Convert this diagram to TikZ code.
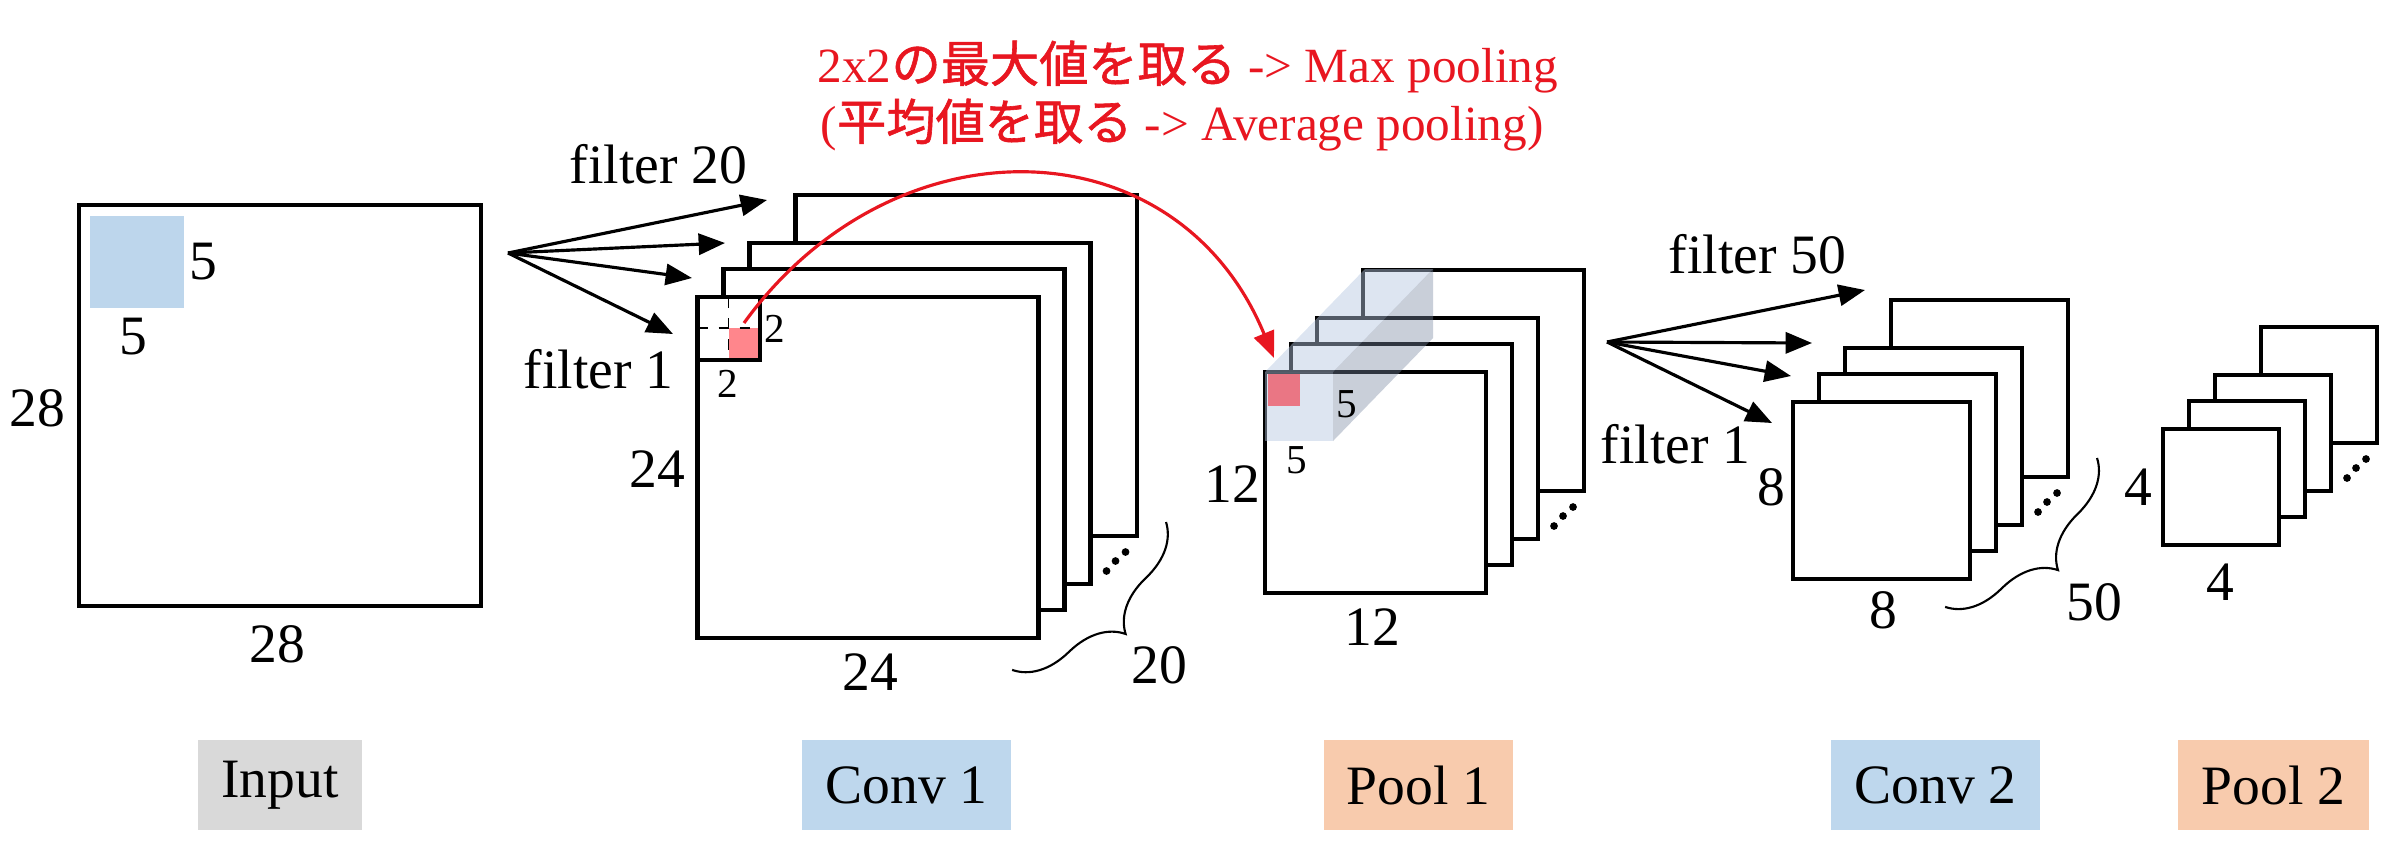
\documentclass[tikz,border=0pt]{standalone}
\usepackage{fontspec}
\setmainfont{Liberation Serif}
\newfontfamily\jpfont{Noto Sans CJK JP}[FakeBold=1.2]
\usetikzlibrary{arrows.meta,decorations.pathreplacing}

\definecolor{kernelblue}{RGB}{189,214,236}
\definecolor{stagegray}{RGB}{217,217,217}
\definecolor{stageblue}{RGB}{190,215,237}
\definecolor{stageorange}{RGB}{248,203,173}
\definecolor{poolred}{RGB}{232,22,32}
\definecolor{poolpink}{RGB}{255,134,140}
\definecolor{poolpinkdim}{RGB}{234,118,132}
\definecolor{cubeblue}{RGB}{180,198,225}
\definecolor{cubeside}{RGB}{120,135,160}

\tikzset{
  layer/.style={draw, fill=white, line width=1.15pt},
  lbl/.style={font=\fontsize{15.8}{19}\selectfont, inner sep=0pt},
  smalllbl/.style={font=\fontsize{11.7}{14}\selectfont, inner sep=0pt},
  fanarrow/.style={line width=0.9pt, -{Triangle[length=7.5pt,width=6pt]}},
  poolarrow/.style={draw=poolred, line width=0.9pt, -{Triangle[length=7.5pt,width=6pt]}, poolred},
  countbrace/.style={decorate, decoration={brace, amplitude=15pt}, line width=0.6pt},
  stagebox/.style={minimum height=0.9cm, inner sep=0pt, font=\fontsize{15.8}{19}\selectfont},
}

\begin{document}
\begin{tikzpicture}[x=0.01cm, y=-0.01cm]
  \useasboundingbox (0,0) rectangle (2392,848);

  % input image
  \draw[layer] (79,205) rectangle (481,606);
  \fill[kernelblue] (90,216) rectangle (184,308);
  \node[lbl] (inh) at (37,408) {28};
  \node[lbl] (inw) at (277,644) {28};
  \node[lbl] (kerh) at (203,262) {5};
  \node[lbl] (kerw) at (133,337) {5};

  % feature map stacks: front corner / size
  \foreach \px/\py/\sz in {697.5/297/341, 1265/372/221, 1793/402/177, 2163/429/116} {
    \foreach \dx/\dy in {98/-102, 52/-54, 26/-28, 0/0}
      \draw[layer] (\px+\dx,\py+\dy) rectangle ++(\sz,\sz);
    \foreach \dx/\dy in {68/-67, 77/-77, 87/-86}
      \fill (\px+\sz+\dx,\py+\sz+\dy) circle[radius=1.1pt];
  }

  % 2x2 window on conv 1
  \fill[poolpink] (728.6,328) rectangle (760,360);
  \draw[dashed, line width=0.5pt] (728.6,297) -- (728.6,360) (697.5,328) -- (760,328);
  \draw[line width=1.15pt] (697.5,297) rectangle (760,360);
  \node[smalllbl] (winh) at (775,329) {2};
  \node[smalllbl] (winw) at (728,384) {2};

  % first fan of filters
  \coordinate (fanA) at (508,253);
  \coordinate (fanA1) at (767,200);
  \coordinate (fanA2) at (725,243);
  \coordinate (fanA3) at (692,278);
  \coordinate (fanA4) at (673,334);
  \foreach \t in {1,...,4}
    \draw[fanarrow] (fanA) -- (fanA\t);
  \node[lbl, anchor=base west] (fltA20) at (569,183) {filter 20};
  \node[lbl, anchor=base west] (fltA1) at (523,388) {filter 1};

  \node[lbl] (convh) at (657,469) {24};
  \node[lbl] (convw) at (870,672) {24};
  \coordinate (convbt) at (1166,522);
  \coordinate (convbb) at (1012,670);
  \draw[countbrace] (convbt) -- (convbb);
  \node[lbl] (convn) at (1159,665) {20};

  % pooling window (transparent block)
  \fill[cubeblue, opacity=0.45] (1265,372) rectangle (1333,441);
  \fill[cubeblue, opacity=0.45] (1265,372) -- (1365,269) -- (1433,269) -- (1333,372) -- cycle;
  \fill[cubeside, opacity=0.4] (1333,372) -- (1433,269) -- (1433,338) -- (1333,441) -- cycle;
  \fill[poolpinkdim] (1268,374) rectangle (1300,406);
  \node[smalllbl] (cubeh) at (1347,404) {5};
  \node[smalllbl] (cubew) at (1297,460) {5};
  \node[lbl] (poolh) at (1232,484) {12};
  \node[lbl] (poolw) at (1372,627) {12};

  % max pooling arrow
  \coordinate (poolsrc) at (744,323);
  \coordinate (pooldst) at (1274,358);
  \draw[poolarrow] (poolsrc) .. controls (894,116) and (1177,123) .. (pooldst);
  \node[anchor=base west, text=poolred, inner sep=0pt, font=\fontsize{14}{17}\selectfont] (maxnote) at (817,82)
    {2x2{\jpfont の最大値を取る} -> Max pooling};
  \node[anchor=base west, text=poolred, inner sep=0pt, font=\fontsize{14}{17}\selectfont] (avgnote) at (820,140)
    {({\jpfont 平均値を取る} -> Average pooling)};

  % second fan of filters
  \coordinate (fanB) at (1607,342);
  \coordinate (fanB1) at (1865,290);
  \coordinate (fanB2) at (1812,343);
  \coordinate (fanB3) at (1791,376);
  \coordinate (fanB4) at (1772,423);
  \foreach \t in {1,...,4}
    \draw[fanarrow] (fanB) -- (fanB\t);
  \node[lbl, anchor=base west] (fltB50) at (1668,273) {filter 50};
  \node[lbl, anchor=base west] (fltB1) at (1600,463) {filter 1};

  \node[lbl] (conv2h) at (1771,487) {8};
  \node[lbl] (conv2w) at (1883,610) {8};
  \coordinate (conv2bt) at (2097,458);
  \coordinate (conv2bb) at (1945,607);
  \draw[countbrace] (conv2bt) -- (conv2bb);
  \node[lbl] (conv2n) at (2094,602) {50};

  \node[lbl] (pool2h) at (2138,487) {4};
  \node[lbl] (pool2w) at (2220,582) {4};

  % stage names
  \node[stagebox, fill=stagegray, minimum width=1.64cm] (stIn) at (280,785) {Input};
  \node[stagebox, fill=stageblue, minimum width=2.09cm] (stC1) at (906.5,785) {Conv 1};
  \node[stagebox, fill=stageorange, minimum width=1.89cm] (stP1) at (1418.5,785) {Pool 1};
  \node[stagebox, fill=stageblue, minimum width=2.09cm] (stC2) at (1935.5,785) {Conv 2};
  \node[stagebox, fill=stageorange, minimum width=1.91cm] (stP2) at (2273.5,785) {Pool 2};
\end{tikzpicture}
\end{document}
